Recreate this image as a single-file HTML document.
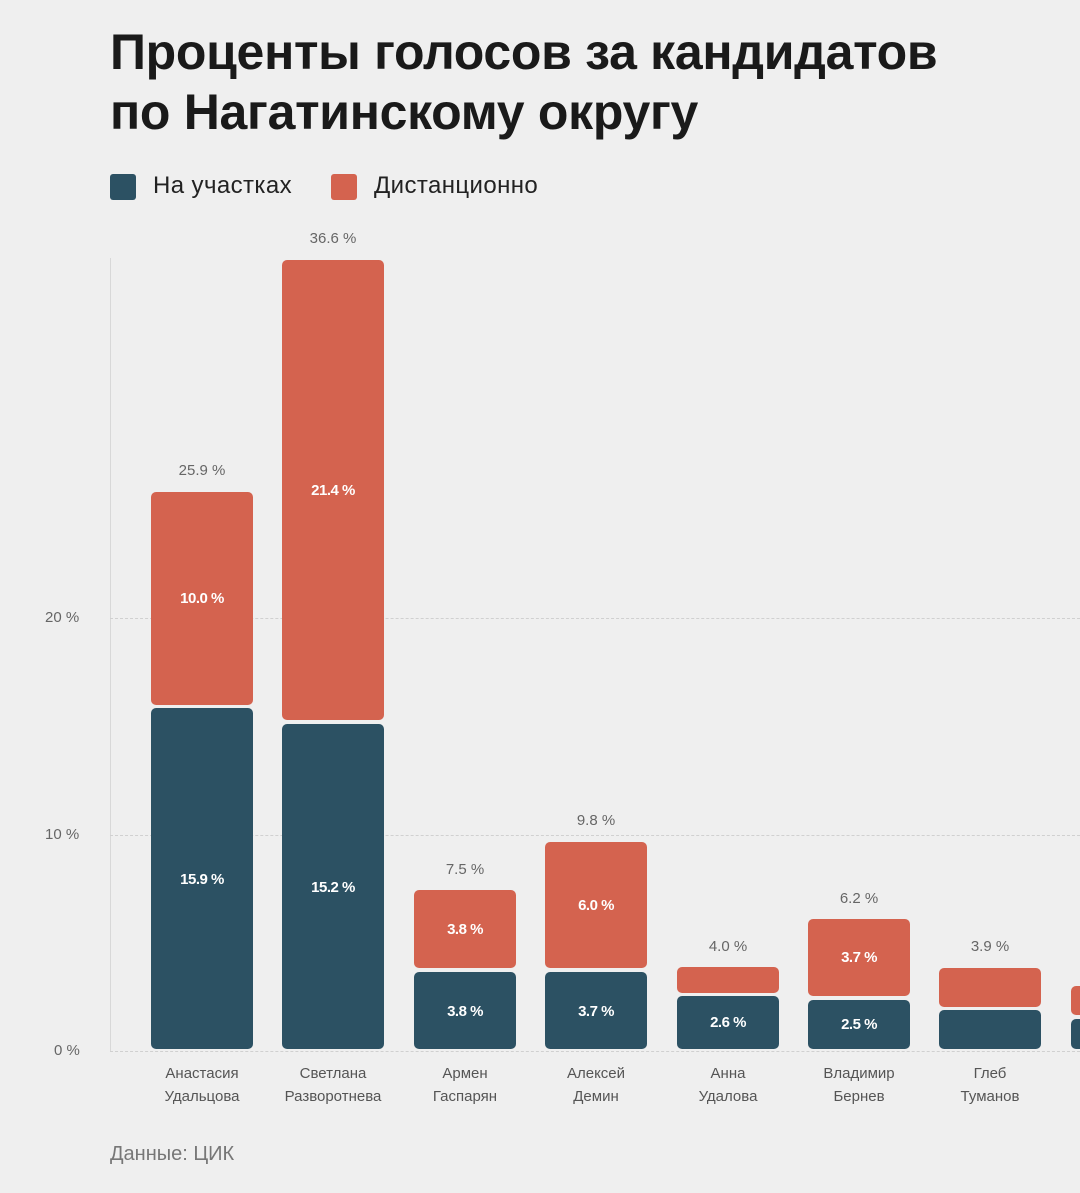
<!DOCTYPE html>
<html><head><meta charset="utf-8"><style>
body{margin:0;width:1080px;height:1193px;background:#efefef;position:relative;overflow:hidden;font-family:"Liberation Sans",sans-serif;}
.a{position:absolute;}
.t{left:110px;font-size:50px;font-weight:bold;color:#1a1a1a;letter-spacing:-0.3px;line-height:60px;}
.r{background:#d4634f;border-radius:5px;position:absolute;}
.b{background:#2c5163;border-radius:5px;position:absolute;}
.v{position:absolute;width:130px;text-align:center;font-size:15px;color:#666;}
.in{position:absolute;width:102px;text-align:center;font-size:15px;font-weight:bold;color:#fff;letter-spacing:-0.5px;}
.n{position:absolute;width:140px;text-align:center;font-size:15px;color:#555;line-height:23px;}
.g{position:absolute;left:110px;width:970px;border-top:1px dashed #d0d0d0;}
</style></head><body>
<div class="a t" style="top:22px">Проценты голосов за кандидатов</div>
<div class="a t" style="top:82px">по Нагатинскому округу</div>
<div class="a" style="left:110px;top:174px;width:26px;height:26px;background:#2c5163;border-radius:3px"></div>
<div class="a" style="left:153px;top:172px;font-size:24px;color:#222;letter-spacing:0.4px">На участках</div>
<div class="a" style="left:331px;top:174px;width:26px;height:26px;background:#d4634f;border-radius:3px"></div>
<div class="a" style="left:374px;top:172px;font-size:24px;color:#222;letter-spacing:0.4px">Дистанционно</div>
<div class="a" style="left:110px;top:258px;height:793px;border-left:1px solid #d8d8d8"></div>
<div class="g" style="top:618px"></div><div class="g" style="top:835px"></div><div class="g" style="top:1051px"></div>
<div class="a" style="left:45px;top:609px;font-size:15px;color:#666">20 %</div>
<div class="a" style="left:45px;top:826px;font-size:15px;color:#666">10 %</div>
<div class="a" style="left:54px;top:1042px;font-size:15px;color:#666">0 %</div>

<div class="r" style="left:151px;top:492px;width:102px;height:213px"></div>
<div class="b" style="left:151px;top:708px;width:102px;height:341px"></div>
<div class="r" style="left:282px;top:260px;width:102px;height:460px"></div>
<div class="b" style="left:282px;top:724px;width:102px;height:325px"></div>
<div class="r" style="left:414px;top:890px;width:102px;height:78px"></div>
<div class="b" style="left:414px;top:972px;width:102px;height:77px"></div>
<div class="r" style="left:545px;top:842px;width:102px;height:126px"></div>
<div class="b" style="left:545px;top:972px;width:102px;height:77px"></div>
<div class="r" style="left:677px;top:967px;width:102px;height:26px"></div>
<div class="b" style="left:677px;top:996px;width:102px;height:53px"></div>
<div class="r" style="left:808px;top:919px;width:102px;height:77px"></div>
<div class="b" style="left:808px;top:1000px;width:102px;height:49px"></div>
<div class="r" style="left:939px;top:968px;width:102px;height:39px"></div>
<div class="b" style="left:939px;top:1010px;width:102px;height:39px"></div>
<div class="r" style="left:1071px;top:986px;width:102px;height:29px"></div>
<div class="b" style="left:1071px;top:1019px;width:102px;height:30px"></div>

<div class="v" style="left:137px;top:462px">25.9 %</div>
<div class="v" style="left:268px;top:230px">36.6 %</div>
<div class="v" style="left:400px;top:861px">7.5 %</div>
<div class="v" style="left:531px;top:812px">9.8 %</div>
<div class="v" style="left:663px;top:938px">4.0 %</div>
<div class="v" style="left:794px;top:890px">6.2 %</div>
<div class="v" style="left:925px;top:938px">3.9 %</div>

<div class="in" style="left:151px;top:590px">10.0 %</div>
<div class="in" style="left:151px;top:871px">15.9 %</div>
<div class="in" style="left:282px;top:482px">21.4 %</div>
<div class="in" style="left:282px;top:879px">15.2 %</div>
<div class="in" style="left:414px;top:921px">3.8 %</div>
<div class="in" style="left:414px;top:1003px">3.8 %</div>
<div class="in" style="left:545px;top:897px">6.0 %</div>
<div class="in" style="left:545px;top:1003px">3.7 %</div>
<div class="in" style="left:677px;top:1014px">2.6 %</div>
<div class="in" style="left:808px;top:949px">3.7 %</div>
<div class="in" style="left:808px;top:1016px">2.5 %</div>

<div class="n" style="left:132px;top:1062px">Анастасия<br>Удальцова</div>
<div class="n" style="left:263px;top:1062px">Светлана<br>Разворотнева</div>
<div class="n" style="left:395px;top:1062px">Армен<br>Гаспарян</div>
<div class="n" style="left:526px;top:1062px">Алексей<br>Демин</div>
<div class="n" style="left:658px;top:1062px">Анна<br>Удалова</div>
<div class="n" style="left:789px;top:1062px">Владимир<br>Бернев</div>
<div class="n" style="left:920px;top:1062px">Глеб<br>Туманов</div>
<div class="a" style="left:110px;top:1143px;font-size:20px;color:#777">Данные: ЦИК</div>
</body></html>
